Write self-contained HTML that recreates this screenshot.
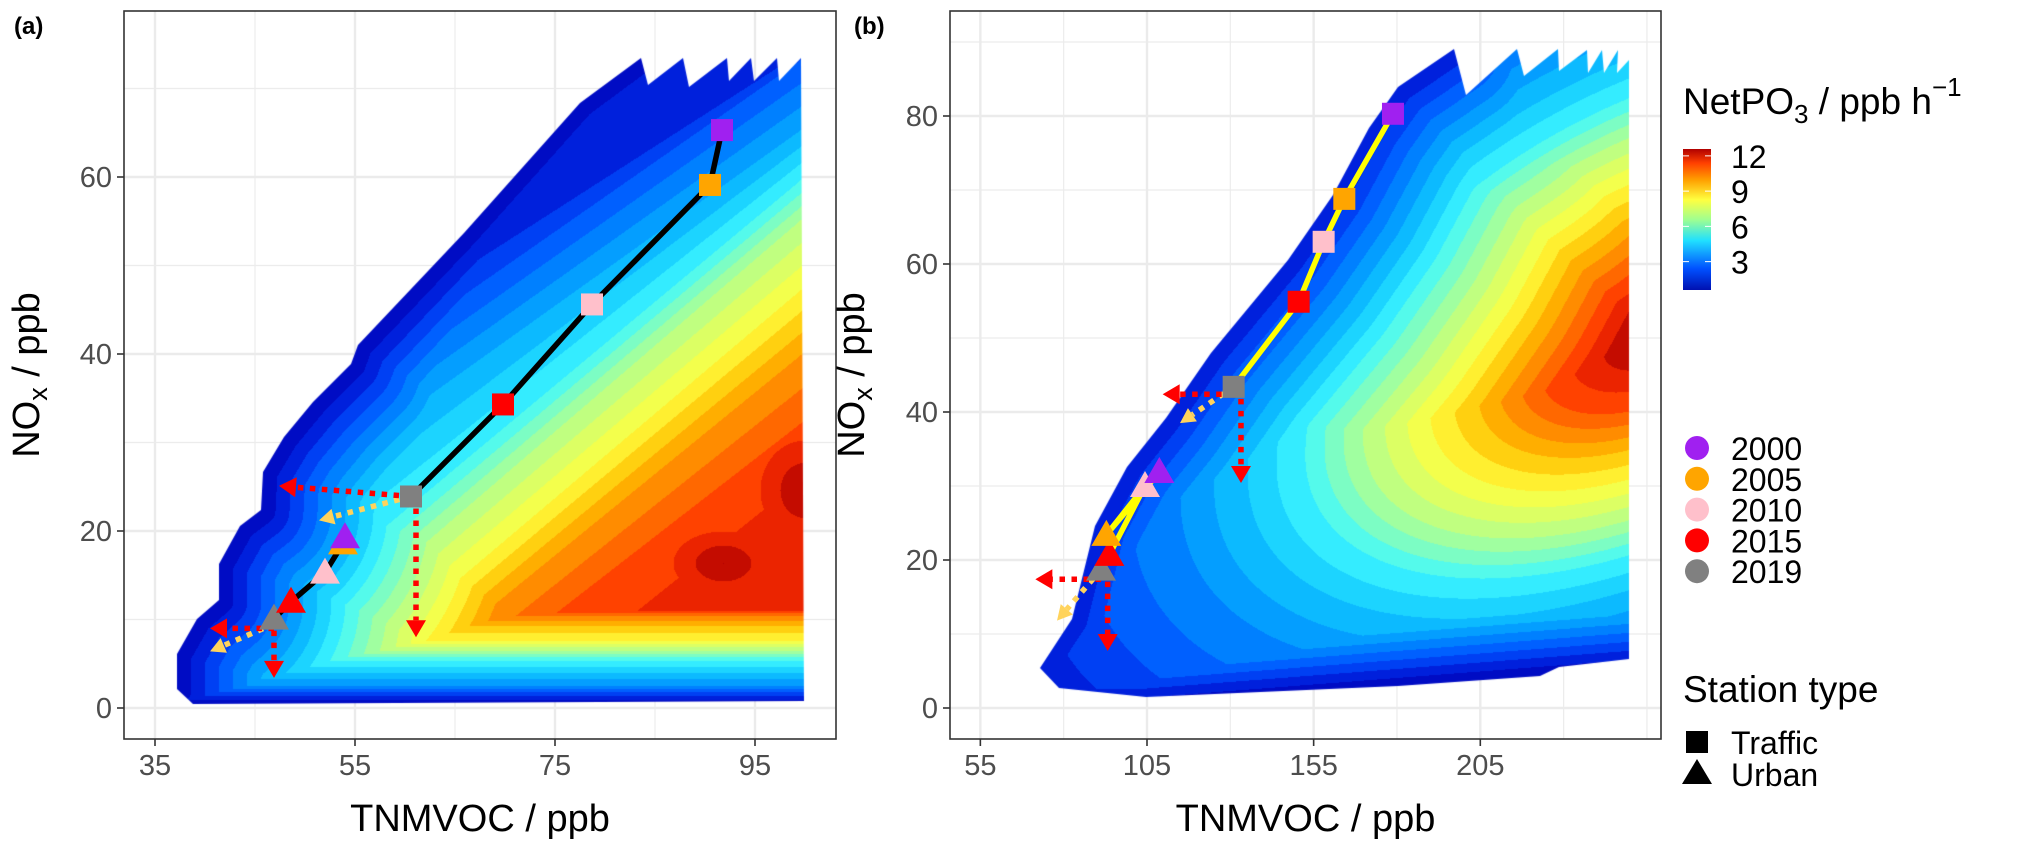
<!DOCTYPE html>
<html><head><meta charset="utf-8"><style>
html,body{margin:0;padding:0;background:#fff}
#wrap{position:relative;width:2022px;height:851px;overflow:hidden}
#wrap svg,#wrap canvas{position:absolute;left:0;top:0;display:block}
svg{font-family:"Liberation Sans",sans-serif}
</style></head><body>
<div id="wrap">
<svg id="gridsvg" width="2022" height="851" xmlns="http://www.w3.org/2000/svg"><g id="gridroot"></g></svg>
<canvas id="field" width="2022" height="851"></canvas>
<svg id="fig" width="2022" height="851" viewBox="0 0 2022 851" xmlns="http://www.w3.org/2000/svg">
<defs>
<linearGradient id="gBar" x1="0" y1="1" x2="0" y2="0">
<stop offset="0" stop-color="#0010b0"/><stop offset="0.15" stop-color="#0050ff"/><stop offset="0.35" stop-color="#20e0ff"/>
<stop offset="0.5" stop-color="#a0ff90"/><stop offset="0.64" stop-color="#ffff40"/><stop offset="0.78" stop-color="#ffa000"/>
<stop offset="0.9" stop-color="#ff4000"/><stop offset="1" stop-color="#b00000"/>
</linearGradient>
</defs>
<g id="root"></g>
</svg>
</div>
<script>
// ---- data ----
const years = ["2000","2005","2010","2015","2019"];
const yearColors = ["#a020f0","#ffa500","#ffc0cb","#ff0000","#808080"];
const aTrafficVOC = [91.7,90.5,78.7,69.8,60.6];
const aTrafficNOx = [65.3,59.1,45.6,34.3,23.9];
const aUrbanVOC = [54.0,53.8,52.0,48.6,46.9];
const aUrbanNOx = [19.3,18.6,15.3,12.0,10.1];
const bTrafficVOC = [178.8,164.2,158.0,150.5,131.0];
const bTrafficNOx = [80.3,68.8,63.0,54.9,43.4];
const bUrbanVOC = [108.7,92.8,104.4,93.7,91.2];
const bUrbanNOx = [31.9,23.4,30.0,20.7,18.7];
// arrows: [fromVOC, fromNOx, toVOC, toNOx]
const aArrowsRed = [[60.6,23.9,47.4,25.1],[61.1,23.9,61.1,8.0],[46.9,9.0,40.5,9.0],[46.9,10.1,46.9,3.4]];
const aArrowsYellow = [[60.6,23.9,51.4,21.2],[46.9,9.5,40.5,6.4]];
const bArrowsRed = [[131.0,42.4,109.7,42.4],[133.2,43.4,133.2,30.4],[91.2,17.4,71.5,17.4],[93.2,18.7,93.2,7.7]];
const bArrowsYellow = [[131.0,43.4,114.9,38.5],[91.2,18.7,78.0,11.8]];
const aXTicks = [35,55,75,95];
const aYTicks = [0,20,40,60];
const bXTicks = [55,105,155,205];
const bYTicks = [0,20,40,60,80];
const barTicks = [3,6,9,12];

const polyA=[[193,704],[177,689],[177,654],[197,619],[219,600],[219,564],[240,526],[261,510],[263,472],[284,437],[313,402],[351,364],[358,345],[464,233],[580,103],[641,58],[648,85],[683,58],[689,87],[727,58],[729,81],[751,58],[754,81],[777,58],[779,81],[801,58],[804,701]];
const edgeA=[[177,689],[177,654],[197,619],[219,600],[219,564],[240,526],[261,510],[263,472],[284,437],[313,402],[351,364],[358,345],[464,233],[580,103],[641,58]];
const polyB=[[1040,668],[1059,688],[1146,697],[1398,686],[1540,676],[1559,667],[1629,659],[1629,60],[1617,73],[1618,50],[1604,73],[1602,50],[1588,73],[1587,50],[1559,71],[1558,49],[1524,76],[1517,49],[1466,95],[1454,49],[1398,87],[1369,128],[1333,195],[1288,260],[1211,353],[1166,418],[1127,467],[1095,526],[1072,619]];
const edgeB=[[1040,668],[1072,619],[1095,526],[1127,467],[1166,418],[1211,353],[1288,260],[1333,195],[1369,128],[1398,87],[1454,49]];

// ---- colour field rendering ----
const cmapC=[[0,0,160],[0,16,208],[0,80,255],[0,144,255],[16,200,255],[64,248,255],[144,255,176],[208,255,112],[255,255,64],[255,192,0],[255,122,0],[255,48,0],[176,0,0]];
function cmap(v){v=Math.max(0,Math.min(12,v));const i=Math.min(11,Math.floor(v)),f=v-i;const a=cmapC[i],b=cmapC[i+1];return [a[0]+(b[0]-a[0])*f,a[1]+(b[1]-a[1])*f,a[2]+(b[2]-a[2])*f];}
function interp(xs,ys,x){if(x<=xs[0])return ys[0];for(let i=1;i<xs.length;i++){if(x<=xs[i]){const f=(x-xs[i-1])/(xs[i]-xs[i-1]);return ys[i-1]+(ys[i]-ys[i-1])*f;}}return ys[ys.length-1];}
const levA=[1,2,3.5,5,6.5,8,9.5,10.6,11.0];
const lev450=[250,304,380,472,521,586,640,700,760];
const lev800=[45,60,130,180,220,290,355,430,480];
const yA=[605,615,625,640,650,660,672,685,695,704];
const yAv=[12,10,9,8,6.5,5,4,3,1.5,0.5];
const dB=[0,0.12,0.25,0.38,0.5,0.62,0.74,0.86,1.0,1.2,1.4];
const vB=[12,11.5,10.5,9,7.8,6.5,5,4,3,2,1];
function segDist(px,py,a,b){const dx=b[0]-a[0],dy=b[1]-a[1];let t=((px-a[0])*dx+(py-a[1])*dy)/(dx*dx+dy*dy);t=Math.max(0,Math.min(1,t));const x=a[0]+t*dx-px,y=a[1]+t*dy-py;return Math.hypot(x,y);}
function edgeDist(x,y,edge){let e=1e9;for(let i=1;i<edge.length;i++)e=Math.min(e,segDist(x,y,edge[i-1],edge[i]));return e;}
function fieldA(x,y){
 const t=(x-450)/350;
 const ys=lev450.map((a,k)=>a*(1-t)+lev800[k]*t);
 let v=interp(ys,levA,y);
 const d1=Math.hypot((x-723)/50,(y-563)/32);
 if(d1<1)v=Math.max(v,12-d1*0.9);
 const d2=Math.hypot((x-805)/45,(y-490)/50);
 if(d2<1)v=Math.max(v,12-d2*0.9);
 v=Math.min(v,interp(yA,yAv,y));
 v=Math.min(v,0.5+edgeDist(x,y,edgeA)/28);
 return v;
}
function fieldB(x,y){
 const cy=330+0.35*(1660-x);
 const ry=y<cy?330:290;
 const d=Math.hypot((x-1660)/480,(y-cy)/ry);
 let v=interp(dB,vB,d);
 v=Math.min(v,1+edgeDist(x,y,edgeB)/30);
 const yb=697-Math.max(0,x-1146)*0.078;
 v=Math.min(v,1+(yb-y)/18);
 return v;
}
function renderField(ctx,poly,fn,x0,y0,w,h){
 const off=document.createElement('canvas');off.width=w;off.height=h;
 const oc=off.getContext('2d');const img=oc.createImageData(w,h);
 for(let j=0;j<h;j++)for(let i=0;i<w;i++){
  let v=fn(x0+i,y0+j);
  v=Math.floor(v*2)/2+0.25;
  const c=cmap(v);const k=(j*w+i)*4;
  img.data[k]=c[0];img.data[k+1]=c[1];img.data[k+2]=c[2];img.data[k+3]=255;
 }
 oc.putImageData(img,0,0);
 ctx.save();ctx.beginPath();poly.forEach((p,i)=>i?ctx.lineTo(p[0],p[1]):ctx.moveTo(p[0],p[1]));ctx.closePath();ctx.clip();
 ctx.drawImage(off,x0,y0);ctx.restore();
}
const fctx=document.getElementById('field').getContext('2d');
renderField(fctx,polyA,fieldA,170,50,640,660);
renderField(fctx,polyB,fieldB,1035,45,600,660);

const NS="http://www.w3.org/2000/svg";
const root=document.getElementById('root');
const groot=document.getElementById('gridroot');
function mk(tag,attrs,parent){const e=document.createElementNS(NS,tag);for(const k in attrs)e.setAttribute(k,attrs[k]);(parent||root).appendChild(e);return e;}

const panels=[
 {id:'a',L:124,R:836,T:11,B:739,x0:35,xs:10,x0p:155,y0:708,ys:8.85,xt:aXTicks,yt:aYTicks,xminor:[45,65,85],yminor:[10,30,50,70],
  tv:aTrafficVOC,tn:aTrafficNOx,uv:aUrbanVOC,un:aUrbanNOx,ar:aArrowsRed,ay:aArrowsYellow,line:'#000',label:'(a)',lx:14,ytx:26},
 {id:'b',L:950,R:1661,T:11,B:739,x0:105,xs:3.333,x0p:1147,y0:708,ys:7.4,xt:bXTicks,yt:bYTicks,xminor:[80,130,180,230,255],yminor:[10,30,50,70,90],
  tv:bTrafficVOC,tn:bTrafficNOx,uv:bUrbanVOC,un:bUrbanNOx,ar:bArrowsRed,ay:bArrowsYellow,line:'#ffff00',label:'(b)',lx:854,ytx:851}
];

panels.forEach(p=>{
 const X=v=>p.x0p+(v-p.x0)*p.xs, Y=v=>p.y0-v*p.ys;
 const gg=mk('g',{},groot);
 
 
 p.xminor.forEach(v=>{const x=X(v);if(x>p.L&&x<p.R){const l=mk('line',{x1:x,x2:x,y1:p.T,y2:p.B,stroke:'#ececec','stroke-width':1.2},gg);}});
 p.yminor.forEach(v=>{const y=Y(v);if(y>p.T&&y<p.B){const l=mk('line',{x1:p.L,x2:p.R,y1:y,y2:y,stroke:'#ececec','stroke-width':1.2},gg);}});
 p.xt.forEach(v=>{const x=X(v);const l=mk('line',{x1:x,x2:x,y1:p.T,y2:p.B,stroke:'#ebebeb','stroke-width':2.4},gg);});
 p.yt.forEach(v=>{const y=Y(v);const l=mk('line',{x1:p.L,x2:p.R,y1:y,y2:y,stroke:'#ebebeb','stroke-width':2.4},gg);});

 const g=mk('g',{});
 
 
 const lp=(vs,ns)=>vs.map((v,i)=>X(v)+','+Y(ns[i])).join(' ');
 const tl=mk('polyline',{points:lp(p.tv,p.tn),fill:'none',stroke:p.line,'stroke-width':5.5,'stroke-linejoin':'round'},g);
 
 
 const ul=mk('polyline',{points:lp(p.uv,p.un),fill:'none',stroke:p.line,'stroke-width':5.5,'stroke-linejoin':'round'},g);
 
 
 const arrow=(a,col,nm)=>{
  const x1=X(a[0]),y1=Y(a[1]),x2=X(a[2]),y2=Y(a[3]);
  const dx=x2-x1,dy=y2-y1,len=Math.hypot(dx,dy),ux=dx/len,uy=dy/len;
  const hl=col==='#ff0000'?17:15, hw=col==='#ff0000'?10:8;
  const bx=x2-ux*hl,by=y2-uy*hl;
  const ag=mk('g',{},g);
  
  
  mk('line',{x1:x1,y1:y1,x2:bx,y2:by,stroke:col,'stroke-width':5.5,'stroke-dasharray':'5.5 6.5'},ag);
  mk('polygon',{points:`${x2},${y2} ${bx-uy*hw},${by+ux*hw} ${bx+uy*hw},${by-ux*hw}`,fill:col},ag);
 };
 p.ay.forEach(a=>arrow(a,'#ffd35c','yellow-arrow'));
 p.ar.forEach(a=>arrow(a,'#ff0000','red-arrow'));
 for(let i=years.length-1;i>=0;i--){
  const x=X(p.uv[i]),y=Y(p.un[i]);
  const t=mk('polygon',{points:`${x},${y-15} ${x-15},${y+11} ${x+15},${y+11}`,fill:yearColors[i]},g);
  
  
 }
 for(let i=years.length-1;i>=0;i--){
  const x=X(p.tv[i]),y=Y(p.tn[i]);
  const r=mk('rect',{x:x-11,y:y-11,width:22,height:22,fill:yearColors[i]},g);
  
  
 }
 const bd=mk('rect',{x:p.L,y:p.T,width:p.R-p.L,height:p.B-p.T,fill:'none',stroke:'#333','stroke-width':1.6},g);
 
 
 p.xt.forEach(v=>{const x=X(v);mk('line',{x1:x,x2:x,y1:p.B,y2:p.B+7,stroke:'#333','stroke-width':1.6},g);
  const t=mk('text',{x:x,y:p.B+36,'font-size':29,fill:'#4d4d4d','text-anchor':'middle'},g);t.textContent=v;
  });
 p.yt.forEach(v=>{const y=Y(v);mk('line',{x1:p.L-7,x2:p.L,y1:y,y2:y,stroke:'#333','stroke-width':1.6},g);
  const t=mk('text',{x:p.L-12,y:y+10,'font-size':29,fill:'#4d4d4d','text-anchor':'end'},g);t.textContent=v;
  });
 const xt=mk('text',{x:(p.L+p.R)/2,y:831,'font-size':38,fill:'#000','text-anchor':'middle'},g);
 xt.textContent='TNMVOC / ppb';
 
 
 const yt=mk('text',{x:0,y:0,'font-size':38,fill:'#000','text-anchor':'middle',transform:`translate(${p.ytx+13},375) rotate(-90)`},g);
 yt.innerHTML='NO<tspan font-size="27" dy="8">x</tspan><tspan dy="-8"> / ppb</tspan>';
 
 
 const pl=mk('text',{x:p.lx,y:34,'font-size':24,'font-weight':'bold',fill:'#000'},g);
 pl.textContent=p.label;
 
 
});

const lg=mk('g',{});


const lt=mk('text',{x:1683,y:114,'font-size':37,fill:'#000'},lg);
lt.innerHTML='NetPO<tspan font-size="26" dy="9">3</tspan><tspan dy="-9"> / ppb h</tspan><tspan font-size="26" dy="-18">−1</tspan>';


const cb=mk('rect',{x:1683,y:149,width:28,height:141,fill:'url(#gBar)'},lg);


const cbY=v=>290-(v-0.5)/12*141+1;
barTicks.forEach(v=>{const y=cbY(v);
 mk('line',{x1:1683,x2:1689,y1:y,y2:y,stroke:'#fff','stroke-width':1},lg);
 mk('line',{x1:1705,x2:1711,y1:y,y2:y,stroke:'#fff','stroke-width':1},lg);
 const t=mk('text',{x:1731,y:y+12,'font-size':32,fill:'#000'},lg);t.textContent=v;
 });
years.forEach((yr,i)=>{const y=448+i*30.8;
 const c=mk('circle',{cx:1697,cy:y,r:12,fill:yearColors[i]},lg);
 
 const t=mk('text',{x:1731,y:y+12,'font-size':32,fill:'#000'},lg);t.textContent=yr;
 });
const st=mk('text',{x:1683,y:702,'font-size':37,fill:'#000'},lg);st.textContent='Station type';

const sq=mk('rect',{x:1686,y:731,width:22,height:22,fill:'#000'},lg);

const t1=mk('text',{x:1731,y:754,'font-size':32,fill:'#000'},lg);t1.textContent='Traffic';

const tr=mk('polygon',{points:'1697,759 1682,784 1712,784',fill:'#000'},lg);

const t2=mk('text',{x:1731,y:786,'font-size':32,fill:'#000'},lg);t2.textContent='Urban';

</script>
</body></html>
